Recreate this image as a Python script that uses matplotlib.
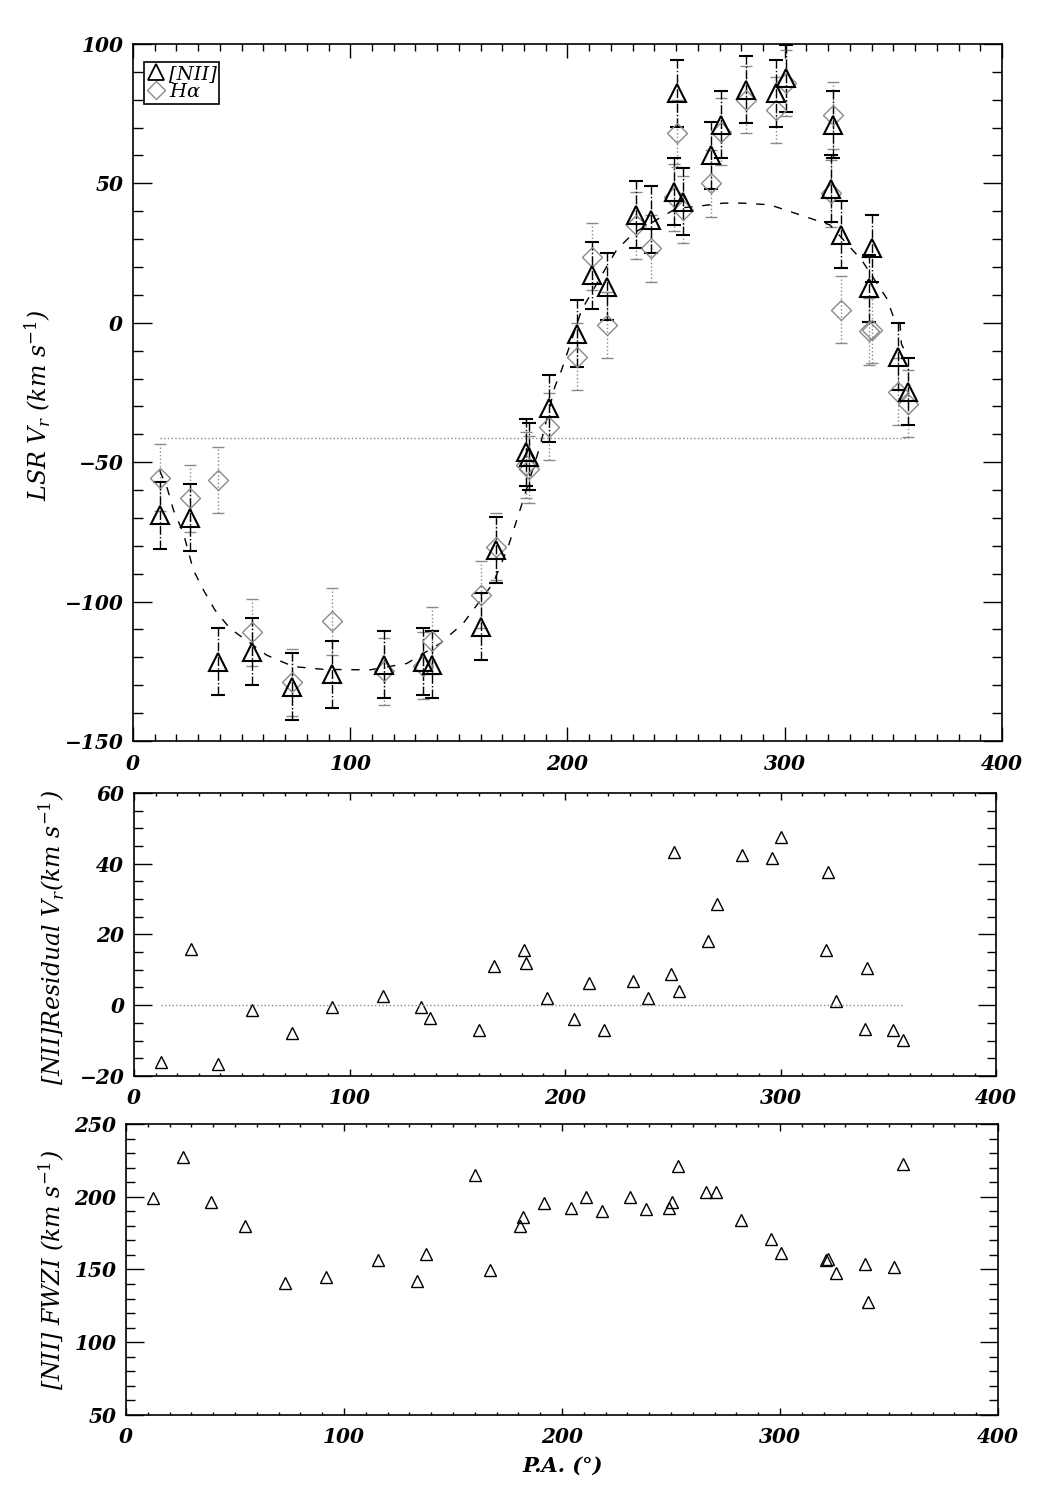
import numpy as np
import matplotlib
matplotlib.use("Agg")
import matplotlib.pyplot as plt
from matplotlib.ticker import MultipleLocator
from matplotlib.lines import Line2D

# IDL-like look: serif, bold italic tick labels
plt.rcParams['font.family'] = ['DejaVu Serif']
plt.rcParams['font.style'] = 'italic'
plt.rcParams['font.weight'] = 'bold'
plt.rcParams['mathtext.fontset'] = 'custom'
plt.rcParams['mathtext.it'] = 'DejaVu Serif:style=italic:weight=normal'
plt.rcParams['mathtext.rm'] = 'DejaVu Serif:style=normal:weight=normal'
plt.rcParams['mathtext.bf'] = 'DejaVu Serif:style=normal:weight=bold'

# Position angle of each slit position (deg)
pa = [12.3, 26.3, 39.1, 54.7, 73.1, 91.8, 115.6, 133.3, 137.5, 160.3, 167.0,
      180.9, 182.1, 191.7, 204.3, 211.1, 218.2, 231.4, 238.5, 249.1, 250.5,
      253.0, 266.2, 270.7, 282.1, 295.9, 300.4, 321.2, 322.1, 325.8, 339.0,
      340.3, 352.1, 356.6]

# [NII] LSR radial velocity (km/s)
nii_v = [-69, -70, -121.5, -118, -130.5, -126, -122.7, -121.5, -122.7, -109, -81.5,
         -46.5, -48, -30.7, -4, 17.1, 13, 38.7, 37, 47, 82.3,
         43.4, 60, 71, 83.5, 82.3, 87.7, 48, 71, 31.5, 12.4,
         26.7, -12.2, -24.7]
nii_err = [12] * len(pa)

# H-alpha LSR radial velocity (km/s)
ha_v = [-55.6, -63, -56.4, -111, -129, -107, -125, -123, -114, -97.6, -80.3,
        -51, -52.5, -37.3, -12.2, 23.7, -0.8, 35, 26.7, 45, 68,
        40.5, 50, 68.5, 80, 76.3, 86, 46.4, 74.5, 4.6, -3,
        -2.6, -24.7, -29]
ha_err = [12] * len(pa)

# model rotation curve (dashed)
curve_pa = [12.3, 15.8, 18.6, 23.2, 27.8, 32.4, 37.7, 44.6, 61.5, 73.8, 87.6, 109,
            126, 141.4, 152, 165.8, 172.7, 178.9, 187.3, 194.2, 197.3, 206.5, 218,
            222.6, 230.3, 250.3, 257.9, 271.7, 280.9, 293.2, 302.4, 311.6, 320.8,
            335.4, 346.9, 350, 353, 353.7, 356.6]
curve_v = [-53, -59.4, -67.1, -75.5, -88.7, -95.8, -103.0, -109.6, -119.2, -123.3,
           -124.3, -124.5, -122.2, -115, -107.8, -93.4, -80.3, -65.3, -44.4, -22.9,
           -16.9, 4.6, 20.1, 26.1, 32.1, 41.1, 41.6, 42.9, 42.9, 42.3, 39.9, 37.5,
           35.1, 22.5, 8.8, 2.2, 0.4, -7.6, -12]
vsys = -41.2

# [NII] residual velocity (km/s)
resid = [-16.1, 16.0, -16.5, -1.5, -7.8, -0.6, 2.5, -0.5, -3.5, -7.1, 11.0,
         15.7, 12.0, 2.0, -3.9, 6.3, -7.1, 6.8, 2.0, 8.7, 43.2,
         4.1, 18.1, 28.6, 42.4, 41.5, 47.6, 15.7, 37.6, 1.2, -6.7,
         10.6, -7.1, -9.9]

# [NII] FWZI (km/s)
fwzi = [199.4, 227.5, 196.2, 180.1, 140.9, 145.0, 156.5, 142.1, 160.4, 214.7, 149.7,
        179.9, 185.9, 195.5, 192.5, 199.6, 190.2, 199.6, 191.4, 192.1, 196.4,
        221.4, 203.5, 203.5, 184.0, 171.0, 161.1, 156.2, 157.2, 147.8, 153.6,
        127.9, 151.9, 222.5]

GRAY = '#8a8a8a'

fig = plt.figure(figsize=(10.43, 15), dpi=100)
ax1 = fig.add_axes([0.1275, 0.506, 0.8332, 0.4647])
ax2 = fig.add_axes([0.1285, 0.2827, 0.8265, 0.1887])
ax3 = fig.add_axes([0.1208, 0.0567, 0.8361, 0.194])


def style_axes(ax, ymajor, yminor, xlen, ylen):
    ax.set_xlim(0, 400)
    ax.xaxis.set_major_locator(MultipleLocator(100))
    ax.xaxis.set_minor_locator(MultipleLocator(10))
    ax.yaxis.set_major_locator(MultipleLocator(ymajor))
    ax.yaxis.set_minor_locator(MultipleLocator(yminor))
    ax.tick_params(which='both', direction='in', top=True, right=True,
                   width=1, labelsize=14.5)
    ax.tick_params(axis='x', which='major', length=xlen, pad=9)
    ax.tick_params(axis='x', which='minor', length=xlen / 2)
    ax.tick_params(axis='y', which='major', length=ylen, pad=7)
    ax.tick_params(axis='y', which='minor', length=ylen / 2)
    for s in ax.spines.values():
        s.set_linewidth(1.2)


# --- top panel: LSR velocities
eb = ax1.errorbar(pa, ha_v, yerr=ha_err, fmt='D', ms=10, mfc='none', mec=GRAY,
                  mew=1, ecolor=GRAY, elinewidth=1, capsize=4, capthick=1.1)
eb[2][0].set_linestyle(':')
eb = ax1.errorbar(pa, nii_v, yerr=nii_err, fmt='^', ms=13, mfc='none', mec='k',
                  mew=1.5, ecolor='k', elinewidth=1, capsize=5, capthick=1.1)
eb[2][0].set_linestyle('-.')
ax1.plot(curve_pa, curve_v, color='k', lw=1, dashes=(6, 7))
ax1.plot([pa[0], pa[-1]], [vsys, vsys], ':', color=GRAY, lw=1)
ax1.set_ylim(-150, 100)
style_axes(ax1, 50, 10, 10, 14)

handles = [Line2D([], [], ls='none', marker='^', ms=12, mfc='none', mec='k', mew=1.3),
           Line2D([], [], ls='none', marker='D', ms=9, mfc='none', mec=GRAY, mew=1)]
leg = ax1.legend(handles, ['[NII]', r'H$\alpha$'], loc='upper left',
                 bbox_to_anchor=(0.013, 0.974), borderaxespad=0, fancybox=False,
                 edgecolor='k', handlelength=0.9, handletextpad=0.2, borderpad=0.15,
                 labelspacing=0.0, prop={'style': 'italic', 'weight': 'normal', 'size': 14})
leg.get_frame().set_linewidth(1.2)
leg.get_frame().set_alpha(1)

# --- middle panel: residuals
ax2.plot(pa, resid, ls='none', marker='^', ms=8, mfc='none', mec='k', mew=1)
ax2.plot([pa[0], pa[-1]], [0, 0], ':', color=GRAY, lw=1)
ax2.set_ylim(-20, 60)
style_axes(ax2, 20, 5, 5, 13)

# --- bottom panel: FWZI
ax3.plot(pa, fwzi, ls='none', marker='^', ms=8, mfc='none', mec='k', mew=1)
ax3.set_ylim(50, 250)
style_axes(ax3, 50, 10, 5, 13)

lab = dict(rotation=90, ha='center', va='center', style='italic',
           weight='normal', size=17)
fig.text(38 / 1043, 1 - 405 / 1500, r'LSR $V_r$ (km s$^{-1}$)', **lab)
fig.text(52 / 1043, 1 - 937 / 1500, r'[NII]Residual $V_r$(km s$^{-1}$)', **lab)
fig.text(52 / 1043, 1 - 1270 / 1500, r'[NII] FWZI (km s$^{-1}$)', **lab)
fig.text(563 / 1043, 1 - 1466 / 1500, 'P.A. (°)', ha='center', va='center',
         style='italic', weight='bold', size=15)

fig.savefig('out.png', dpi=100, facecolor='white')
